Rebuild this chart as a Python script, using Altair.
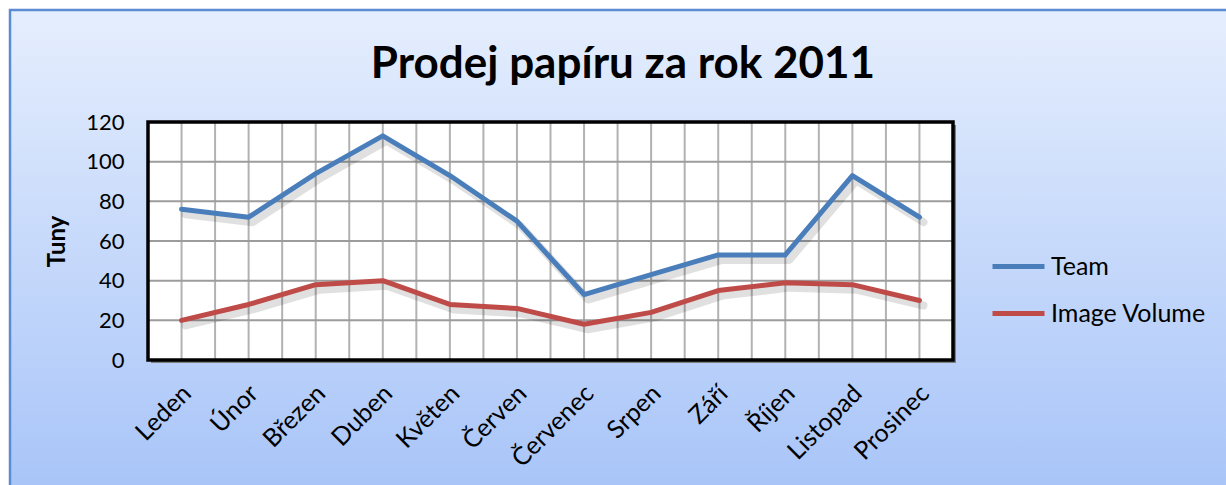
import json
import altair as alt
import pandas as pd

months = ["Leden", "Únor", "Březen", "Duben", "Květen", "Červen",
          "Červenec", "Srpen", "Září", "Říjen", "Listopad", "Prosinec"]
team = [76, 72, 94, 113, 93, 70, 33, 43, 53, 53, 93, 72]
image_volume = [20, 28, 38, 40, 28, 26, 18, 24, 35, 39, 38, 30]
series_names = ["Team", "Image Volume"]
series_colors = ["#4a7ebb", "#be4b48"]
y_ticks = [0, 20, 40, 60, 80, 100, 120]
title_text = "Prodej papíru za rok 2011"
y_title = "Tuny"

W, H = 805, 238
PL, PT = 148, 122
PR, PB = 1226 - PL - W, 485 - PT - H
FONT = "Lato"

rows = []
for i, m in enumerate(months):
    rows.append({"idx": i, "month": m, "series": series_names[0], "value": team[i]})
    rows.append({"idx": i, "month": m, "series": series_names[1], "value": image_volume[i]})
df = pd.DataFrame(rows)

n = len(months)
vgrid = pd.DataFrame({"idx": [k / 2 - 0.5 for k in range(2 * n + 1)]})
hgrid = pd.DataFrame({"value": y_ticks})
one = pd.DataFrame({"a": [0]})

xscale = alt.Scale(domain=[-0.5, n - 0.5], nice=False, zero=False)
yscale = alt.Scale(domain=[0, 120], nice=False)

label_expr = json.dumps(months) + "[datum.value]"

x_axis = alt.Axis(values=list(range(n)), labelExpr=label_expr, title=None,
                  labelAngle=-45, labelAlign="right", labelBaseline="middle",
                  labelPadding=29, labelOffset=5, labelFontSize=25, labelFont=FONT,
                  labelColor="#000000", domain=False, ticks=False, grid=False,
                  labelOverlap=False, labelBound=False, labelFlush=False, zindex=2)
y_axis = alt.Axis(values=y_ticks, title=y_title, titleFont=FONT,
                  titleFontSize=24, titleFontWeight="bold", titleColor="#000000",
                  titlePadding=16, labelFontSize=22, labelFont=FONT,
                  labelColor="#000000", labelPadding=24, domain=False,
                  ticks=False, grid=False, zindex=2)

X = lambda: alt.X("idx:Q", scale=xscale, axis=x_axis)
Y = lambda: alt.Y("value:Q", scale=yscale, axis=y_axis)

bg = alt.Chart(one).mark_rect(
    color=alt.Gradient(gradient="linear",
                       stops=[alt.GradientStop(color="#e5eefd", offset=0),
                              alt.GradientStop(color="#a6c3f8", offset=1)],
                       x1=0, x2=0, y1=0, y2=1),
    stroke="#5b8bd3", strokeWidth=2.5
).encode(x=alt.value(10 - PL), x2=alt.value(1226 - PL + 20),
         y=alt.value(10 - PT), y2=alt.value(485 - PT + 20))

title = alt.Chart(one).mark_text(
    text=title_text, font=FONT, fontSize=44, fontWeight="bold", color="#000000",
    align="center", baseline="alphabetic"
).encode(x=alt.value(623 - PL), y=alt.value(78 - PT))

shadow_rect = alt.Chart(one).mark_rect(color="#7f7f7f").encode(
    x=alt.value(3), x2=alt.value(W + 3), y=alt.value(3), y2=alt.value(H + 3))
plot_rect = alt.Chart(one).mark_rect(color="white").encode(
    x=alt.value(0), x2=alt.value(W), y=alt.value(0), y2=alt.value(H))

vrules = alt.Chart(vgrid).mark_rule(color="#b2b2b2", strokeWidth=2).encode(x=X())
hrules = alt.Chart(hgrid).mark_rule(color="#9c9c9c", strokeWidth=2).encode(y=Y())

shadow_lines = alt.Chart(df).mark_line(
    color="#000000", opacity=0.12, strokeWidth=8, xOffset=4, yOffset=5,
    strokeCap="round", strokeJoin="round"
).encode(x=X(), y=Y(), detail="series:N")

lines = alt.Chart(df).mark_line(
    strokeWidth=5, strokeCap="round", strokeJoin="round"
).encode(
    x=X(), y=Y(),
    color=alt.Color("series:N",
                    scale=alt.Scale(domain=series_names, range=series_colors),
                    sort=series_names,
                    legend=alt.Legend(title=None, orient="none", legendX=W + 37,
                                      legendY=116, symbolType="stroke",
                                      symbolSize=2704, symbolStrokeWidth=5,
                                      labelFontSize=25, labelFont=FONT,
                                      labelColor="#000000", rowPadding=5,
                                      labelOffset=4)),
    detail="series:N")

border = alt.Chart(one).mark_rect(fill=None, stroke="#000000", strokeWidth=3.5).encode(
    x=alt.value(0), x2=alt.value(W), y=alt.value(0), y2=alt.value(H))

chart = alt.layer(bg, title, shadow_rect, plot_rect, vrules, hrules, shadow_lines, lines, border).properties(
    width=W, height=H,
    padding={"left": PL, "top": PT, "right": PR, "bottom": PB},
    autosize=alt.AutoSizeParams(type="none"),
    background="#ffffff"
).configure_view(stroke=None)

chart.save("out.html", embed_options={"renderer": "svg", "actions": False})
